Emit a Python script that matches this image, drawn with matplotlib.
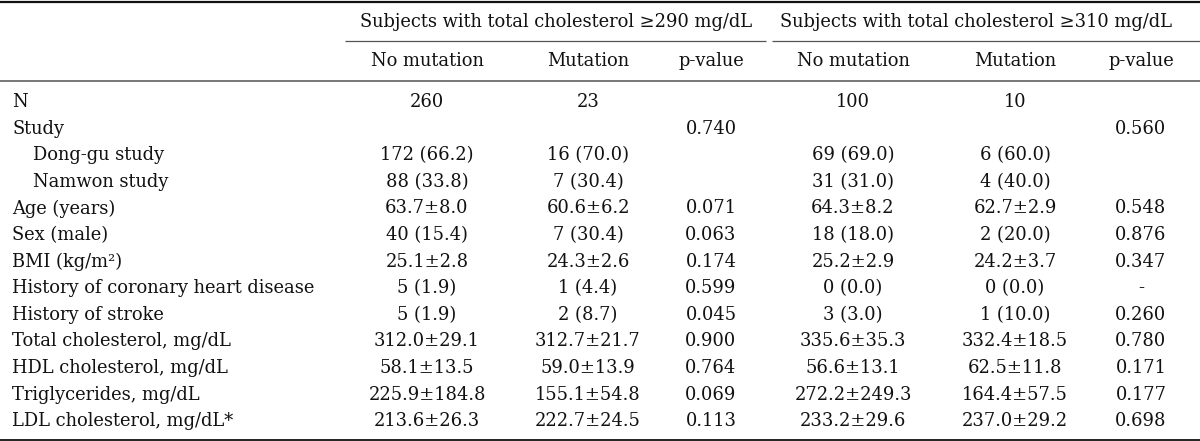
import matplotlib
matplotlib.use("Agg")
import matplotlib.pyplot as plt

group_headers = ["Subjects with total cholesterol \u2265290 mg/dL",
                 "Subjects with total cholesterol \u2265310 mg/dL"]
col_headers = ["No mutation", "Mutation", "p-value", "No mutation", "Mutation", "p-value"]

row_labels = ["N", "Study", "Dong-gu study", "Namwon study", "Age (years)", "Sex (male)",
              "BMI (kg/m\u00b2)", "History of coronary heart disease", "History of stroke",
              "Total cholesterol, mg/dL", "HDL cholesterol, mg/dL", "Triglycerides, mg/dL",
              "LDL cholesterol, mg/dL*"]
row_indent = [0, 0, 1, 1, 0, 0, 0, 0, 0, 0, 0, 0, 0]

no_mut_290 = ["260", "", "172 (66.2)", "88 (33.8)", "63.7\u00b18.0", "40 (15.4)", "25.1\u00b12.8",
              "5 (1.9)", "5 (1.9)", "312.0\u00b129.1", "58.1\u00b113.5", "225.9\u00b1184.8", "213.6\u00b126.3"]
mut_290 = ["23", "", "16 (70.0)", "7 (30.4)", "60.6\u00b16.2", "7 (30.4)", "24.3\u00b12.6",
           "1 (4.4)", "2 (8.7)", "312.7\u00b121.7", "59.0\u00b113.9", "155.1\u00b154.8", "222.7\u00b124.5"]
p_290 = ["", "0.740", "", "", "0.071", "0.063", "0.174", "0.599", "0.045", "0.900", "0.764",
         "0.069", "0.113"]
no_mut_310 = ["100", "", "69 (69.0)", "31 (31.0)", "64.3\u00b18.2", "18 (18.0)", "25.2\u00b12.9",
              "0 (0.0)", "3 (3.0)", "335.6\u00b135.3", "56.6\u00b113.1", "272.2\u00b1249.3", "233.2\u00b129.6"]
mut_310 = ["10", "", "6 (60.0)", "4 (40.0)", "62.7\u00b12.9", "2 (20.0)", "24.2\u00b13.7",
           "0 (0.0)", "1 (10.0)", "332.4\u00b118.5", "62.5\u00b111.8", "164.4\u00b157.5", "237.0\u00b129.2"]
p_310 = ["", "0.560", "", "", "0.548", "0.876", "0.347", "-", "0.260", "0.780", "0.171",
         "0.177", "0.698"]

columns = [no_mut_290, mut_290, p_290, no_mut_310, mut_310, p_310]

W, H = 1200, 441
fig = plt.figure(figsize=(W / 100, H / 100), dpi=100)
ax = fig.add_axes([0, 0, 1, 1])
ax.set_xlim(0, W)
ax.set_ylim(H, 0)
ax.axis("off")

font = dict(family="DejaVu Serif", fontsize=12.9, color="#111111")

col_x = [427, 588, 711, 853, 1015, 1141]
group_lines = [(345, 766), (772, 1200)]
group_text_x = [556, 976]
label_x = 12
indent_w = 21
y_group = 22
y_colhdr = 61
y_first = 102
row_h = 26.6

# rules
ax.plot([0, W], [2, 2], color="#111111", lw=1.6, solid_capstyle="butt")
for (x0, x1) in group_lines:
    ax.plot([x0, x1], [41, 41], color="#555555", lw=0.9, solid_capstyle="butt")
ax.plot([0, W], [81, 81], color="#777777", lw=1.4, solid_capstyle="butt")
ax.plot([0, W], [439.5, 439.5], color="#222222", lw=1.4, solid_capstyle="butt")

for x, g in zip(group_text_x, group_headers):
    ax.text(x, y_group, g, ha="center", va="center", **font)
for x, h in zip(col_x, col_headers):
    ax.text(x, y_colhdr, h, ha="center", va="center", **font)

for i, (lab, ind) in enumerate(zip(row_labels, row_indent)):
    y = y_first + i * row_h
    ax.text(label_x + ind * indent_w, y, lab, ha="left", va="center", **font)
    for x, col in zip(col_x, columns):
        if col[i]:
            ax.text(x, y, col[i], ha="center", va="center", **font)

fig.savefig("out.png", dpi=100)
